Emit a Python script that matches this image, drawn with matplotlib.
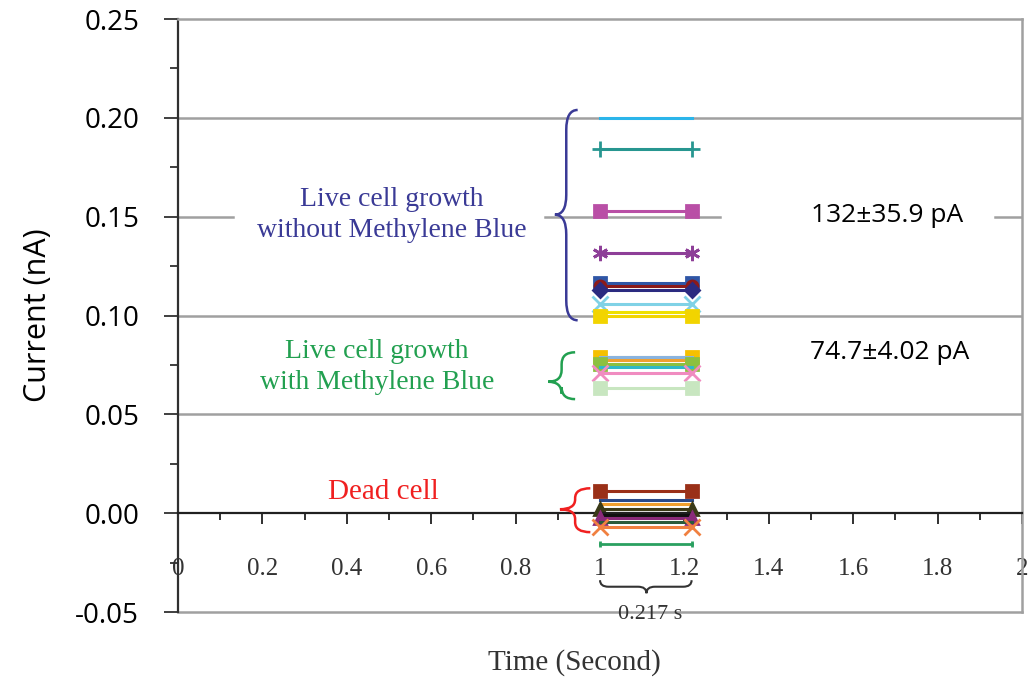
import matplotlib.pyplot as plt
from matplotlib.path import Path
from matplotlib.patches import PathPatch
from matplotlib.ticker import MultipleLocator

# every trace is a flat current level held from t = 1 s to t = 1.217 s
t_span = [1.0, 1.217]

# live cells without methylene blue (nA)
live_levels = [0.200, 0.184, 0.153, 0.1315, 0.1163, 0.1148, 0.1128, 0.106, 0.1017, 0.100]
live_colors = ['#2bb5ea', '#279690', '#b94fa6', '#8e3f98', '#2f56a6', '#8b1a1a',
               '#2b2b80', '#80d2e6', '#eee000', '#f2d400']
live_markers = [None, '+', 's', (6, 2, 0), 's', 'o', 'D', 'x', None, 's']

# live cells with methylene blue (nA)
mb_levels = [0.0790, 0.0788, 0.0774, 0.0755, 0.0740, 0.0708, 0.0635]
mb_colors = ['#f5c000', '#8ab4e0', '#f0a030', '#8cc040', '#30b8c8', '#f08cc0', '#c8e6c0']
mb_markers = ['s', None, None, 's', None, 'x', 's']

# dead cells (nA)
dead_levels = [0.0111, 0.0069, 0.0046, 0.0020, 0.0002, -0.0010, -0.0024, -0.0044, -0.0069]
dead_colors = ['#9a3018', '#2a4a8a', '#f0a030', '#3a3a18', '#202020', '#101010',
               '#8a2a7a', '#2a5a3a', '#f08040']
dead_markers = ['s', None, None, '^', None, None, '^', None, 'x']

span_mark = -0.0157

serif = 'Liberation Serif'
sans = 'Open Sans'


def vbrace(ax, x_tip, x_back, y_lo, y_hi, y_tip, r, color):
    xm = (x_tip + x_back) / 2
    verts = [(x_back, y_hi), (xm, y_hi), (xm, y_hi - r), (xm, y_tip + r),
             (xm, y_tip), (x_tip, y_tip), (xm, y_tip), (xm, y_tip - r),
             (xm, y_lo + r), (xm, y_lo), (x_back, y_lo)]
    codes = [Path.MOVETO, Path.CURVE3, Path.CURVE3, Path.LINETO,
             Path.CURVE3, Path.CURVE3, Path.CURVE3, Path.CURVE3,
             Path.LINETO, Path.CURVE3, Path.CURVE3]
    ax.add_patch(PathPatch(Path(verts, codes), fc='none', ec=color, lw=1.8,
                           clip_on=False, zorder=5))


def hbrace(ax, x_lo, x_hi, x_tip, y_back, y_tip, r, color):
    ym = (y_back + y_tip) / 2
    verts = [(x_lo, y_back), (x_lo, ym), (x_lo + r, ym), (x_tip - r, ym),
             (x_tip, ym), (x_tip, y_tip), (x_tip, ym), (x_tip + r, ym),
             (x_hi - r, ym), (x_hi, ym), (x_hi, y_back)]
    codes = [Path.MOVETO, Path.CURVE3, Path.CURVE3, Path.LINETO,
             Path.CURVE3, Path.CURVE3, Path.CURVE3, Path.CURVE3,
             Path.LINETO, Path.CURVE3, Path.CURVE3]
    ax.add_patch(PathPatch(Path(verts, codes), fc='none', ec=color, lw=1.5,
                           clip_on=False, zorder=5))


def draw_group(ax, levels, colors, markers):
    sizes = {'s': 9, 'o': 8, 'D': 7, '^': 8}
    for lev, c, m in zip(levels, colors, markers):
        ax.plot(t_span, [lev, lev], color=c, lw=2.2, marker=m, ms=sizes.get(m, 11),
                mew=2, mfc=c, mec=c, zorder=4, clip_on=False)


fig = plt.figure(figsize=(10.3, 6.82), dpi=100)
ax = fig.add_axes([0.1728, 0.1026, 0.8195, 0.8695])
ax.set_xlim(0, 2)
ax.set_ylim(-0.05, 0.25)

# frame: dark y axis, grey box, x axis through zero
for side in ['top', 'right']:
    ax.spines[side].set_color('#a0a0a0')
    ax.spines[side].set_linewidth(1.8)
ax.spines['left'].set_color('#303030')
ax.spines['left'].set_linewidth(1.6)
ax.spines['bottom'].set_position(('data', 0))
ax.spines['bottom'].set_color('#202020')
ax.spines['bottom'].set_linewidth(1.6)
ax.axhline(-0.05, color='#a0a0a0', lw=1.8, zorder=1, clip_on=False)

for g in [0.05, 0.10, 0.20]:
    ax.axhline(g, color='#a0a0a0', lw=1.8, zorder=1)
# the 0.15 line is broken where the two labels sit on it
for x0, x1 in [(0, 0.13), (0.87, 1.284), (1.936, 2)]:
    ax.plot([x0, x1], [0.15, 0.15], color='#a0a0a0', lw=1.8, zorder=1)

ax.yaxis.set_major_locator(MultipleLocator(0.05))
ax.yaxis.set_minor_locator(MultipleLocator(0.025))
ax.xaxis.set_major_locator(MultipleLocator(0.2))
ax.xaxis.set_minor_locator(MultipleLocator(0.1))
ax.yaxis.set_major_formatter(plt.FuncFormatter(lambda v, p: f'{v:.2f}'))
ax.xaxis.set_major_formatter(plt.FuncFormatter(lambda v, p: f'{v:g}'))
ax.tick_params(axis='y', which='major', length=10, width=1.3, color='#303030',
               pad=18, labelsize=20)
ax.tick_params(axis='y', which='minor', length=6, width=1.3, color='#303030')
ax.tick_params(axis='x', which='major', length=8, width=1.3, color='#202020',
               pad=24, labelsize=18, labelcolor='#333333')
ax.tick_params(axis='x', which='minor', length=5, width=1.3, color='#202020')
for lab in ax.get_yticklabels():
    lab.set_family(sans)
for lab in ax.get_xticklabels():
    lab.set_family(serif)

draw_group(ax, live_levels, live_colors, live_markers)
draw_group(ax, mb_levels, mb_colors, mb_markers)
draw_group(ax, dead_levels, dead_colors, dead_markers)
ax.plot(t_span, [span_mark, span_mark], color='#2aa060', lw=2, marker='|',
        ms=5, mew=2, zorder=4, clip_on=False)

# braces and group labels
navy = '#3a3a96'
green = '#22a050'
red = '#f02020'
vbrace(ax, 0.893, 0.947, 0.0976, 0.204, 0.151, 0.010, navy)
vbrace(ax, 0.877, 0.941, 0.0577, 0.0814, 0.0665, 0.006, green)
vbrace(ax, 0.905, 0.977, -0.0096, 0.0126, 0.002, 0.005, red)
hbrace(ax, 1.0, 1.217, 1.11, -0.0339, -0.0405, 0.02, '#333333')

ax.text(0.507, 0.1507, 'Live cell growth\nwithout Methylene Blue', color=navy,
        fontsize=20, family=serif, ha='center', va='center', linespacing=1.3, zorder=6)
ax.text(0.472, 0.0738, 'Live cell growth\nwith Methylene Blue', color=green,
        fontsize=20, family=serif, ha='center', va='center', linespacing=1.3, zorder=6)
ax.text(0.486, 0.0106, 'Dead cell', color=red, fontsize=21, family=serif,
        ha='center', va='center', zorder=6)
ax.text(1.68, 0.1507, '132\u00b135.9 pA', fontsize=19, family=sans,
        ha='center', va='center', zorder=6)
ax.text(1.687, 0.0814, '74.7\u00b14.02 pA', fontsize=19, family=sans,
        ha='center', va='center', zorder=6)
ax.text(1.118, -0.0515, '0.217 s', fontsize=16, family=serif, color='#333333',
        ha='center', va='center', zorder=6, clip_on=False)

ax.set_ylabel('Current (nA)', fontsize=22, family=sans, labelpad=16)
fig.text(0.558, 0.028, 'Time (Second)', fontsize=21, family=serif,
         color='#333333', ha='center', va='center')

fig.savefig('out.png', dpi=100)
